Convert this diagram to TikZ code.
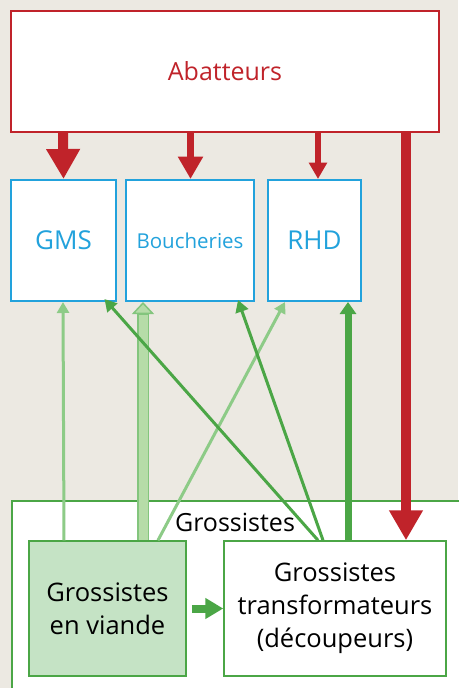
\documentclass[tikz,border=0pt]{standalone}
\usepackage{fontspec}
\setmainfont{Open Sans}
\usetikzlibrary{arrows.meta,positioning}

\definecolor{fond}{HTML}{ECE9E2}
\definecolor{rouge}{HTML}{C0232A}
\definecolor{bleu}{HTML}{22A2DC}
\definecolor{vert}{HTML}{4BA646}
\definecolor{vertclair}{HTML}{8DCB87}
\definecolor{vertpale}{HTML}{B6DCA8}
\definecolor{vertfond}{HTML}{C5E3C5}

\begin{document}
\begin{tikzpicture}[x=1pt,y=-1pt,
    abat/.style={draw=rouge,line width=2pt,fill=white,text=rouge,font=\fontsize{25}{29}\selectfont,
                 minimum width=428pt,minimum height=121pt},
    dist/.style={draw=bleu,line width=2pt,fill=white,text=bleu,font=\fontsize{26}{30}\selectfont,
                 minimum height=121pt},
    gros/.style={draw=vert,line width=1.5pt,align=center,font=\fontsize{25.5}{33}\selectfont,
                 minimum height=135pt},
    rflux/.style={rouge,-{Triangle[width=#1*3.2pt,length=#1*3pt]},line width=#1*1pt},
    vflux/.style={vert,line width=3pt,-{Triangle[width=13pt,length=12pt]}},
    lflux/.style={vertclair,line width=3pt,-{Triangle[width=12pt,length=11pt]}}]
    \useasboundingbox[fill=fond] (0,0) rectangle (458,688);

    \node[abat]                     (ab)  at (225,71.5)  {Abatteurs};
    \node[dist,minimum width=105pt] (gms) at (63.5,240.5) {GMS};
    \node[dist,minimum width=128pt,font=\fontsize{20.5}{24}\selectfont] (bou) at (190,240.5) {Boucheries};
    \node[dist,minimum width=93pt]  (rhd) at (314.5,240.5) {RHD};

    \node[draw=vert,line width=1.5pt,fill=white,minimum width=470pt,minimum height=200pt,anchor=north west]
        (grp) at (11,500) {};
    \node[font=\fontsize{25}{29}\selectfont] (grl) at (235,522) {Grossistes};
    \node[gros,fill=vertfond,minimum width=157pt] (gev) at (107.5,608.5) {Grossistes\\en viande};
    \node[gros,fill=white,minimum width=222pt]    (gt)  at (335,608.5)
        {Grossistes\\transformateurs\\(découpeurs)};

    % abatteurs -> distribution
    \draw[rflux=10]  ([xshift=-162pt]ab.south) -- (gms.north);
    \draw[rflux=7.5] ([xshift=-34.5pt]ab.south) -- ([xshift=0.5pt]bou.north);
    \draw[rflux=5.5] ([xshift=93pt]ab.south) -- ([xshift=3.5pt]rhd.north);
    \draw[rflux=10]  ([xshift=181pt]ab.south) -- ([xshift=71pt]gt.north);

    % grossistes -> distribution
    \draw[lflux] ([xshift=-43.5pt]gev.north) -- ([xshift=-0.5pt]gms.south);
    \draw[lflux] ([xshift=50.5pt]gev.north) -- ([xshift=-29.5pt]rhd.south);
    \draw[vertclair!85!vert,line width=12pt,-{Triangle[width=22pt,length=12pt,fill=vertpale,line width=1.5pt]}]
        ([xshift=35.5pt]gev.north) -- ([xshift=-47pt]bou.south);
    \draw[vertpale,line width=9pt,shorten >=12.5pt] ([xshift=35.5pt]gev.north) -- ([xshift=-47pt]bou.south);
    \draw[vflux] ([xshift=-17pt]gt.north) -- ([xshift=41pt,yshift=3pt]gms.south);
    \draw[vflux] ([xshift=-12pt]gt.north) -- ([xshift=48pt,yshift=2pt]bou.south);
    \draw[vert,line width=7pt,-{Triangle[width=16pt,length=12pt]}] ([xshift=13pt]gt.north) -- ([xshift=33.5pt]rhd.south);
    \draw[vert,line width=8pt,-{Triangle[width=20pt,length=18pt]}] ([xshift=5pt]gev.east) -- (gt.west);
\end{tikzpicture}
\end{document}
